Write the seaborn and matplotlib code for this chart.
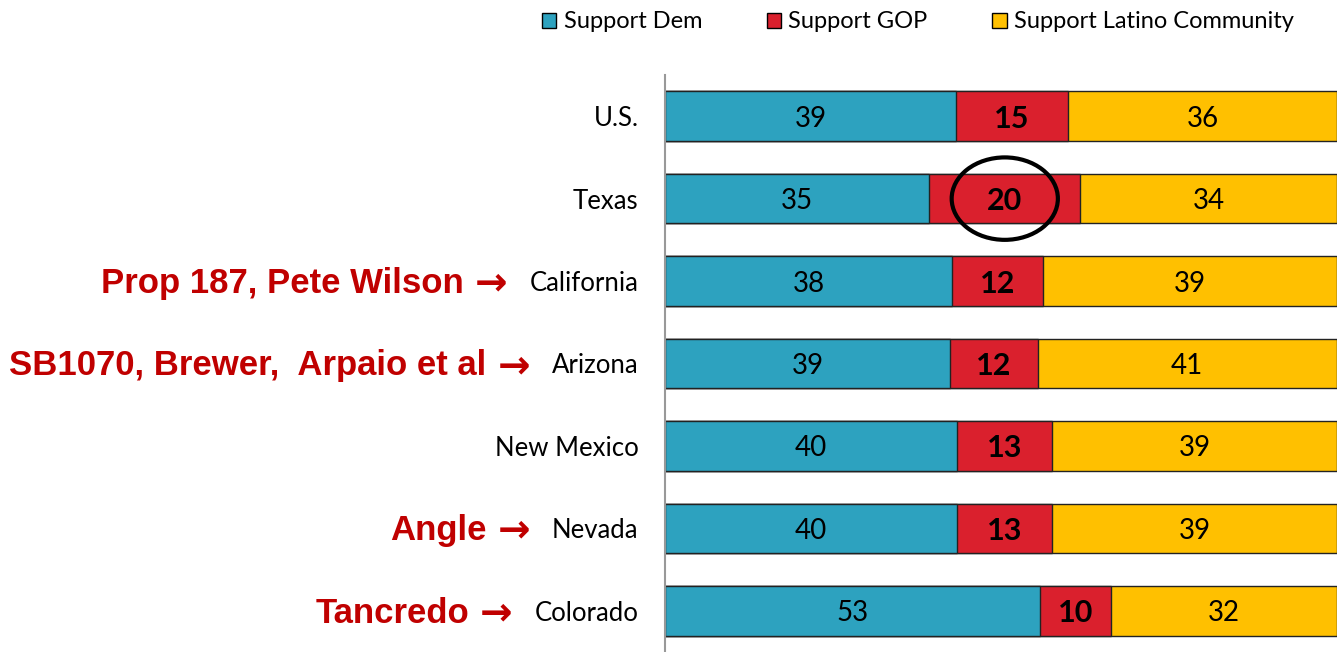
import numpy as np
import pandas as pd
import matplotlib
matplotlib.use("Agg")
import matplotlib.pyplot as plt
from matplotlib.patches import Ellipse, Patch
import seaborn as sns

# --- Data ---
states = ["U.S.", "Texas", "California", "Arizona", "New Mexico", "Nevada", "Colorado"]
dem    = [39, 35, 38, 39, 40, 40, 53]
gop    = [15, 20, 12, 12, 13, 13, 10]
latino = [36, 34, 39, 41, 39, 39, 32]
notes  = ["", "", "Prop 187, Pete Wilson", "SB1070, Brewer,  Arpaio et al", "", "Angle", "Tancredo"]
series = ["Support Dem", "Support GOP", "Support Latino Community"]
colors = ["#2DA2BF", "#DA202D", "#FFC000"]
circled = "Texas"

# --- Normalise to 100% and build cumulative edges ---
df = pd.DataFrame({"state": states, "dem": dem, "gop": gop, "latino": latino})
total = df[["dem", "gop", "latino"]].sum(axis=1)
df["dem_p"] = df["dem"] / total * 100
df["gop_p"] = df["gop"] / total * 100
df["lat_p"] = df["latino"] / total * 100
df["cum1"] = df["dem_p"]
df["cum2"] = df["dem_p"] + df["gop_p"]
df["cum3"] = df["cum2"] + df["lat_p"]

sns.set_style("white")
plt.rcParams["font.family"] = ["Lato", "DejaVu Sans"]
plt.rcParams["text.color"] = "black"
plt.rcParams["ytick.color"] = "black"

fig = plt.figure(figsize=(13.42, 6.52), dpi=100)
ax = fig.add_axes([0.4955, 0.0, 0.5008, 0.885])

# draw back to front so stacked segments show
for col, color in zip(["cum3", "cum2", "cum1"], colors[::-1]):
    sns.barplot(data=df, x=col, y="state", orient="h", color=color, width=0.6,
                edgecolor="#222222", linewidth=1.0, saturation=1, ax=ax)

ax.set_xlim(0, 100)
ax.set_ylim(6.5, -0.5)
ax.set_xlabel("")
ax.set_ylabel("")
ax.set_xticks([])
for s in ["top", "right", "bottom"]:
    ax.spines[s].set_visible(False)
ax.spines["left"].set_color("#999999")
ax.spines["left"].set_linewidth(1.5)
ax.tick_params(axis="y", length=0, pad=19, labelsize=18.5, labelcolor="black")

# --- Segment values ---
for i, row in df.iterrows():
    ax.text(row["cum1"] / 2, i + 0.03, str(row["dem"]), ha="center", va="center", fontsize=20)
    ax.text((row["cum1"] + row["cum2"]) / 2, i + 0.03, str(row["gop"]), ha="center", va="center",
            fontsize=22, fontweight="bold")
    ax.text((row["cum2"] + row["cum3"]) / 2, i + 0.03, str(row["latino"]), ha="center", va="center",
            fontsize=20)

# --- Circle around the Texas GOP value ---
ti = states.index(circled)
tx = (df.loc[ti, "cum1"] + df.loc[ti, "cum2"]) / 2
ax.add_patch(Ellipse((tx, ti), width=15.8, height=1.0, fill=False,
                     edgecolor="black", linewidth=3, clip_on=False, zorder=5))

# --- Legend ---
handles = [Patch(facecolor=c, edgecolor="black", linewidth=1) for c in colors]
fig.legend(handles, series, loc="upper center", bbox_to_anchor=(0.684, 1.015), ncol=3,
           frameon=False, fontsize=17, handlelength=0.6, handleheight=0.6,
           handletextpad=0.3, columnspacing=2.75)

# --- Red annotations to the left of the state labels ---
fig.canvas.draw()
renderer = fig.canvas.get_renderer()
W, H = fig.get_size_inches() * fig.dpi
for lab, note in zip(ax.get_yticklabels(), notes):
    if not note:
        continue
    bb = lab.get_window_extent(renderer)
    yc = (bb.y0 + bb.y1) / 2
    arrow = fig.text((bb.x0 - 22) / W, yc / H, "\u2192", ha="right", va="center",
                     fontsize=28, fontweight="bold", color="#C00000", family="DejaVu Sans")
    ab = arrow.get_window_extent(renderer)
    fig.text((ab.x0 - 11) / W, yc / H, note, ha="right", va="center",
             fontsize=25, fontweight="bold", color="#C00000", family="Liberation Sans")

fig.savefig("out.png", dpi=100)
